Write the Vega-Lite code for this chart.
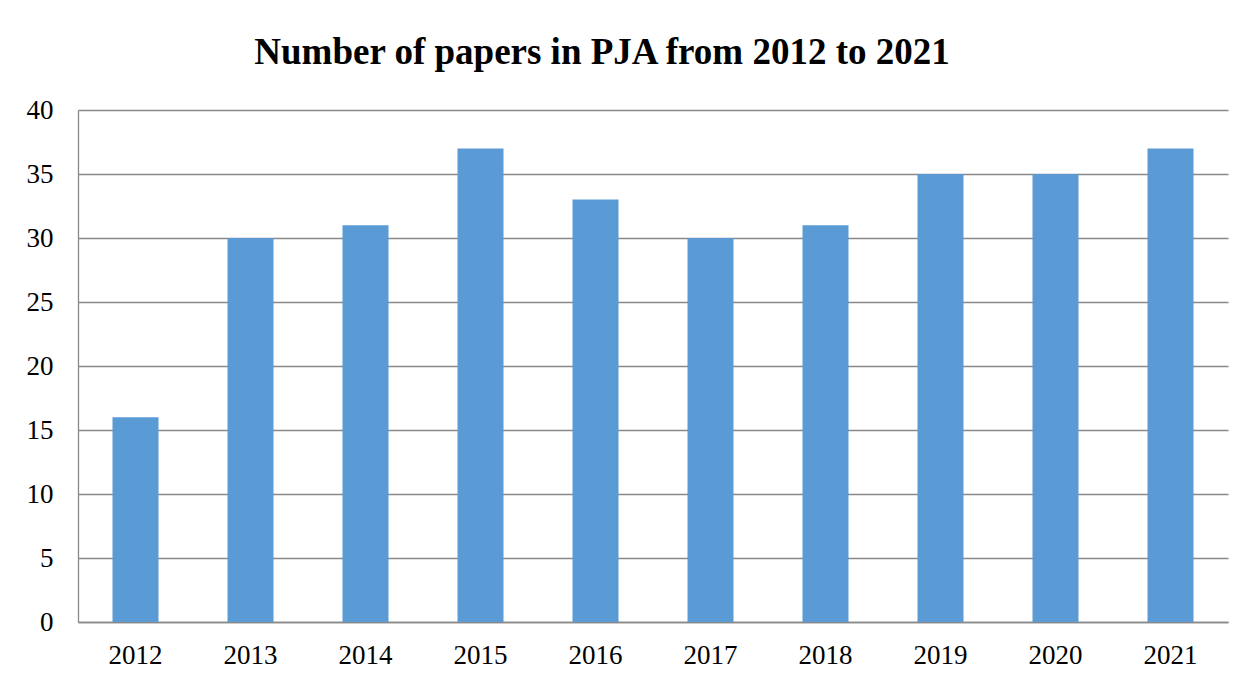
{
  "$schema": "https://vega.github.io/schema/vega-lite/v6.json",
  "autosize": "none",
  "width": 1150,
  "height": 512,
  "padding": {"left": 78, "top": 110, "right": 16, "bottom": 59},
  "background": "white",
  "title": {
    "text": "Number of papers in PJA from 2012 to 2021",
    "font": "Liberation Serif",
    "fontSize": 37,
    "fontWeight": "bold",
    "color": "black",
    "anchor": "middle",
    "dx": -51,
    "offset": 24
  },
  "data": {
    "values": [
      {"Year": "2012", "Papers": 16},
      {"Year": "2013", "Papers": 30},
      {"Year": "2014", "Papers": 31},
      {"Year": "2015", "Papers": 37},
      {"Year": "2016", "Papers": 33},
      {"Year": "2017", "Papers": 30},
      {"Year": "2018", "Papers": 31},
      {"Year": "2019", "Papers": 35},
      {"Year": "2020", "Papers": 35},
      {"Year": "2021", "Papers": 37}
    ]
  },
  "mark": {"type": "bar", "color": "#5B9BD5"},
  "encoding": {
    "x": {
      "field": "Year",
      "type": "nominal",
      "scale": {"paddingInner": 0.6, "paddingOuter": 0.3},
      "axis": {
        "title": null,
        "labelAngle": 0,
        "ticks": false,
        "labelPadding": 20,
        "grid": false
      }
    },
    "y": {
      "field": "Papers",
      "type": "quantitative",
      "scale": {"domain": [0, 40], "nice": false},
      "axis": {
        "title": null,
        "values": [0, 5, 10, 15, 20, 25, 30, 35, 40],
        "ticks": false,
        "labelPadding": 25,
        "grid": true
      }
    }
  },
  "config": {
    "view": {"stroke": null},
    "axis": {
      "labelFont": "Liberation Serif",
      "labelFontSize": 27,
      "labelColor": "black",
      "domainColor": "#898989",
      "domainWidth": 1.3,
      "gridColor": "#898989",
      "gridWidth": 1.3,
      "gridOpacity": 1
    }
  }
}
